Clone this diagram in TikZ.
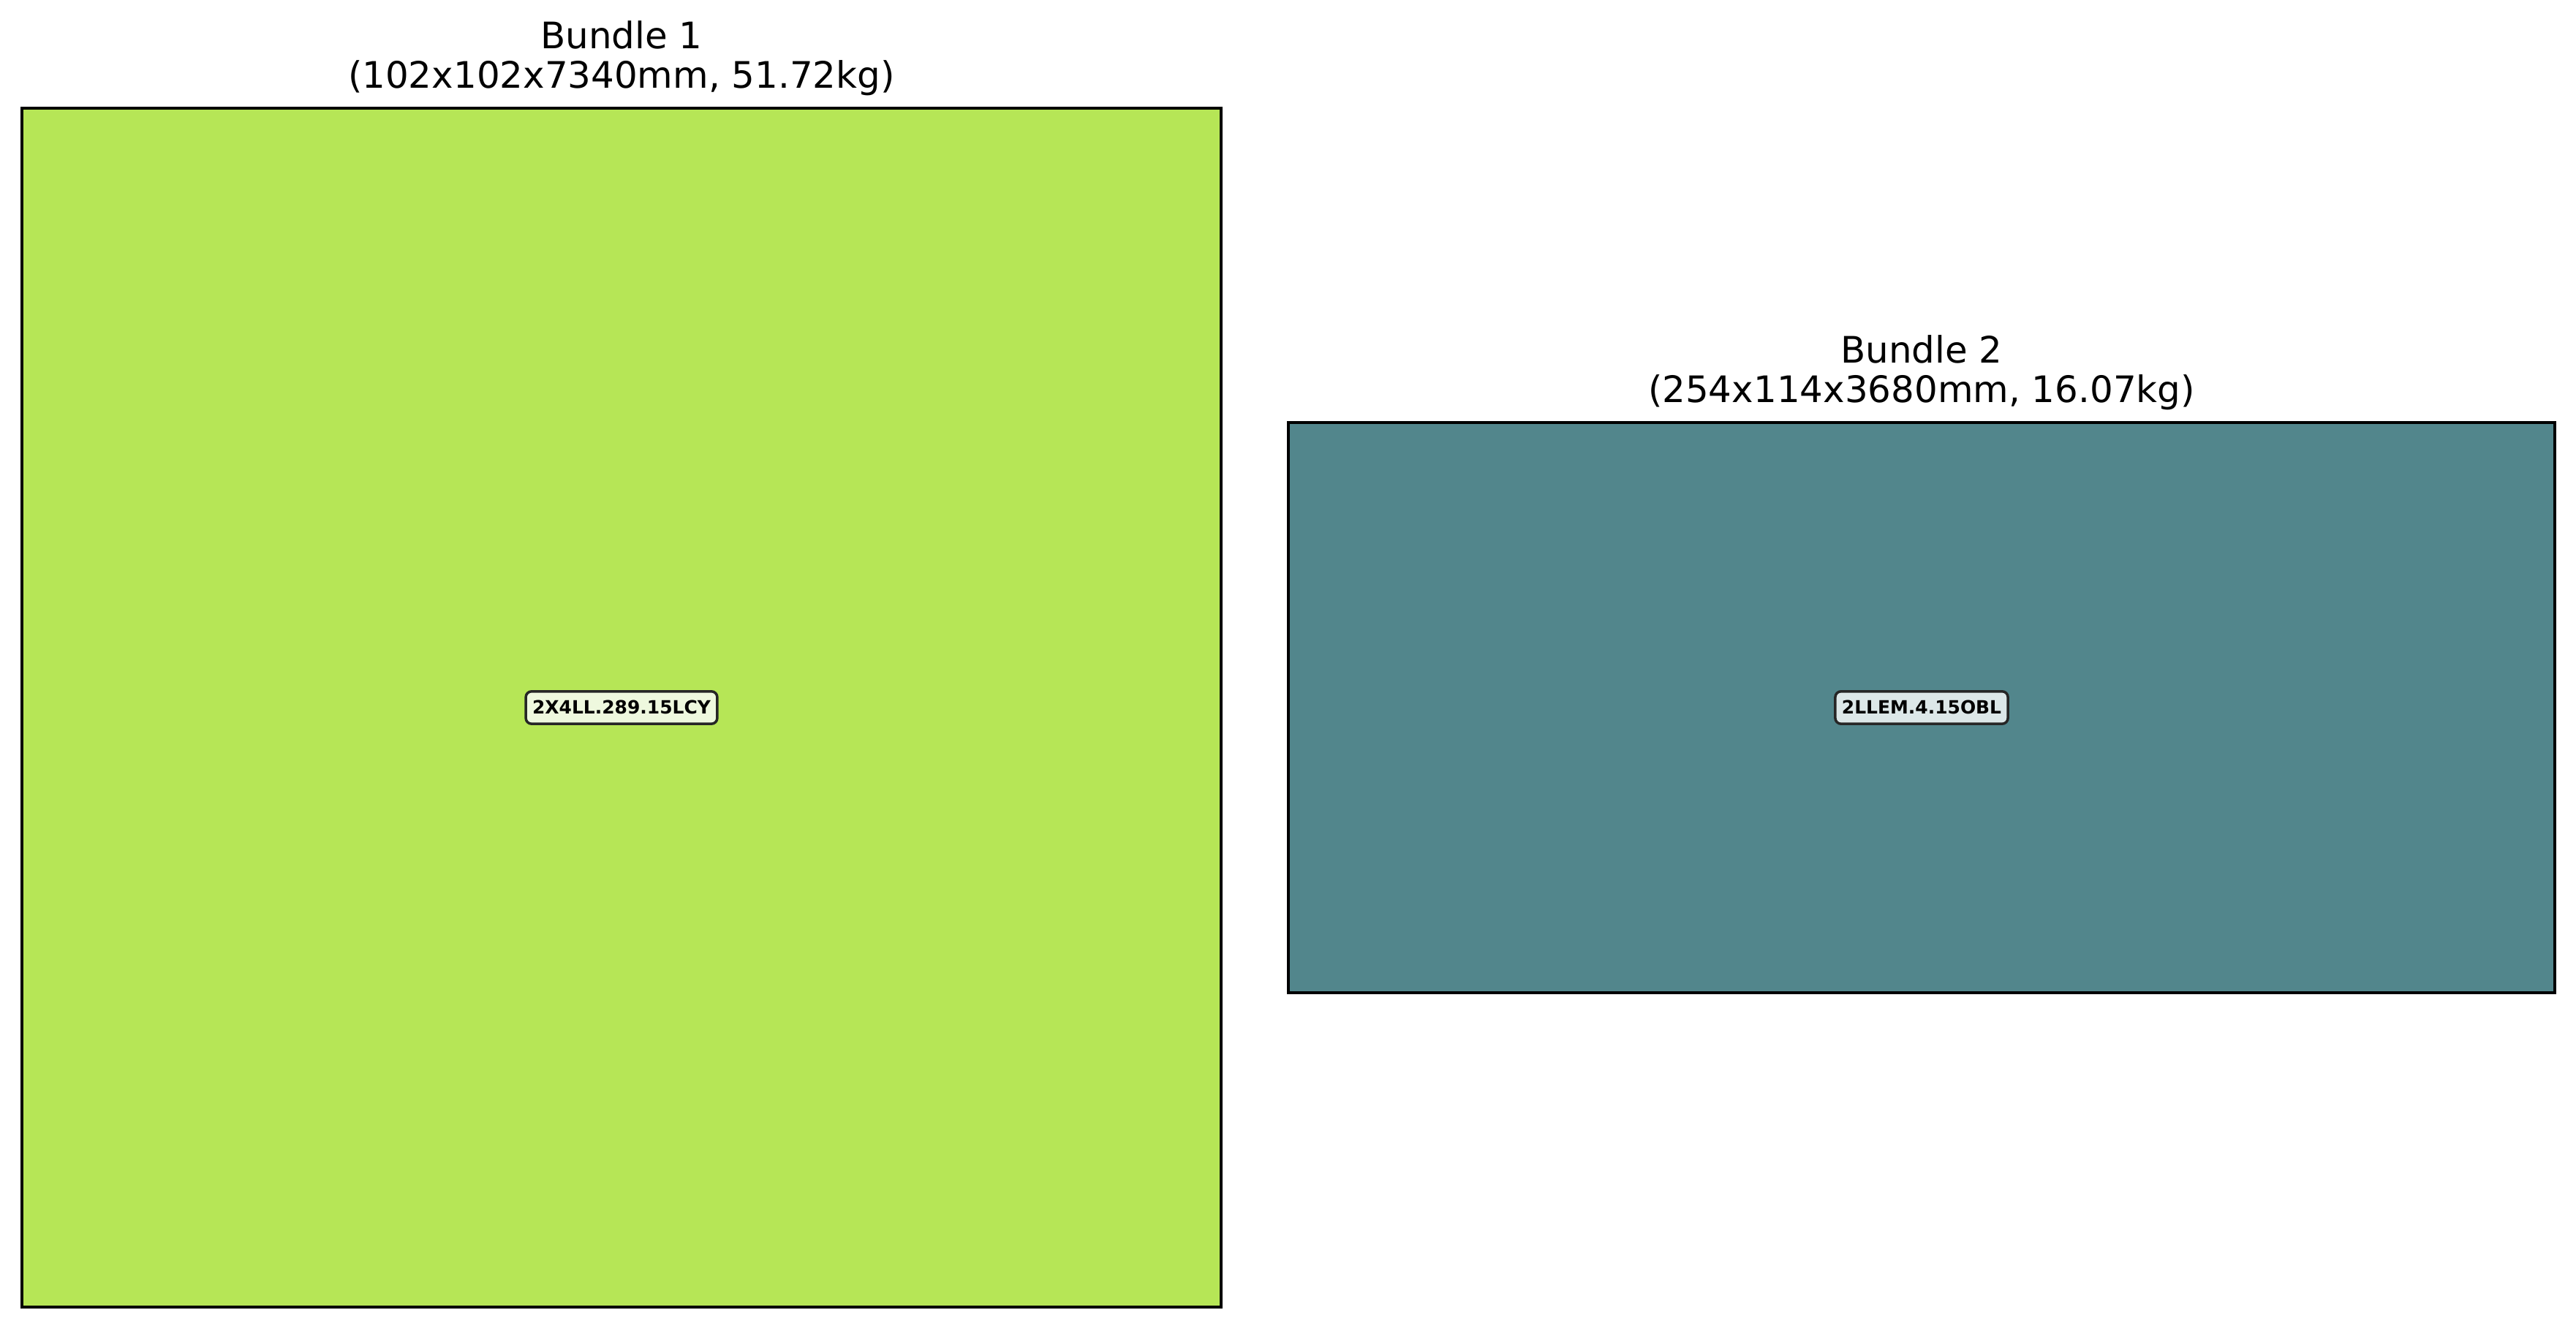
\documentclass[tikz,border=0pt]{standalone}
\usepackage{fontspec}
\setmainfont{DejaVu Sans}
\usetikzlibrary{positioning}

\definecolor{bundlegreen}{RGB}{182,230,86}
\definecolor{bundleteal}{RGB}{82,134,140}
\definecolor{tagA}{RGB}{238,248,222}
\definecolor{tagB}{RGB}{220,231,232}

\tikzset{
  bundle/.style={draw=black, line width=1pt, inner sep=0pt},
  bundletitle/.style={font=\fontsize{14.2}{15.3}\selectfont, align=center,
    inner sep=0pt, text depth=0pt, anchor=south},
  bundletag/.style={draw=black!85, line width=1pt, rounded corners=0.8mm,
    font=\fontsize{7.1}{8}\selectfont\bfseries, inner xsep=0.9mm,
    text height=1.9mm, text depth=0.2mm, minimum height=4.1mm}
}

\begin{document}
\begin{tikzpicture}
    \useasboundingbox (0,0) rectangle (35.23,18.18);
    %Bundle 1
    \node[bundle, fill=bundlegreen, minimum width=16.40cm, minimum height=16.40cm] (bundleA) at (8.50,8.50) {};
    \node[bundletitle] (titleA) at ([yshift=0.25cm]bundleA.north) {Bundle 1\\(102x102x7340mm, 51.72kg)};
    \node[bundletag, fill=tagA] (tagA) at (bundleA.center) {2X4LL.289.15LCY};
    %Bundle 2
    \node[bundle, fill=bundleteal, minimum width=17.32cm, minimum height=7.80cm] (bundleB) at (26.28,8.50) {};
    \node[bundletitle] (titleB) at ([yshift=0.25cm]bundleB.north) {Bundle 2\\(254x114x3680mm, 16.07kg)};
    \node[bundletag, fill=tagB] (tagB) at (bundleB.center) {2LLEM.4.15OBL};
\end{tikzpicture}
\end{document}
